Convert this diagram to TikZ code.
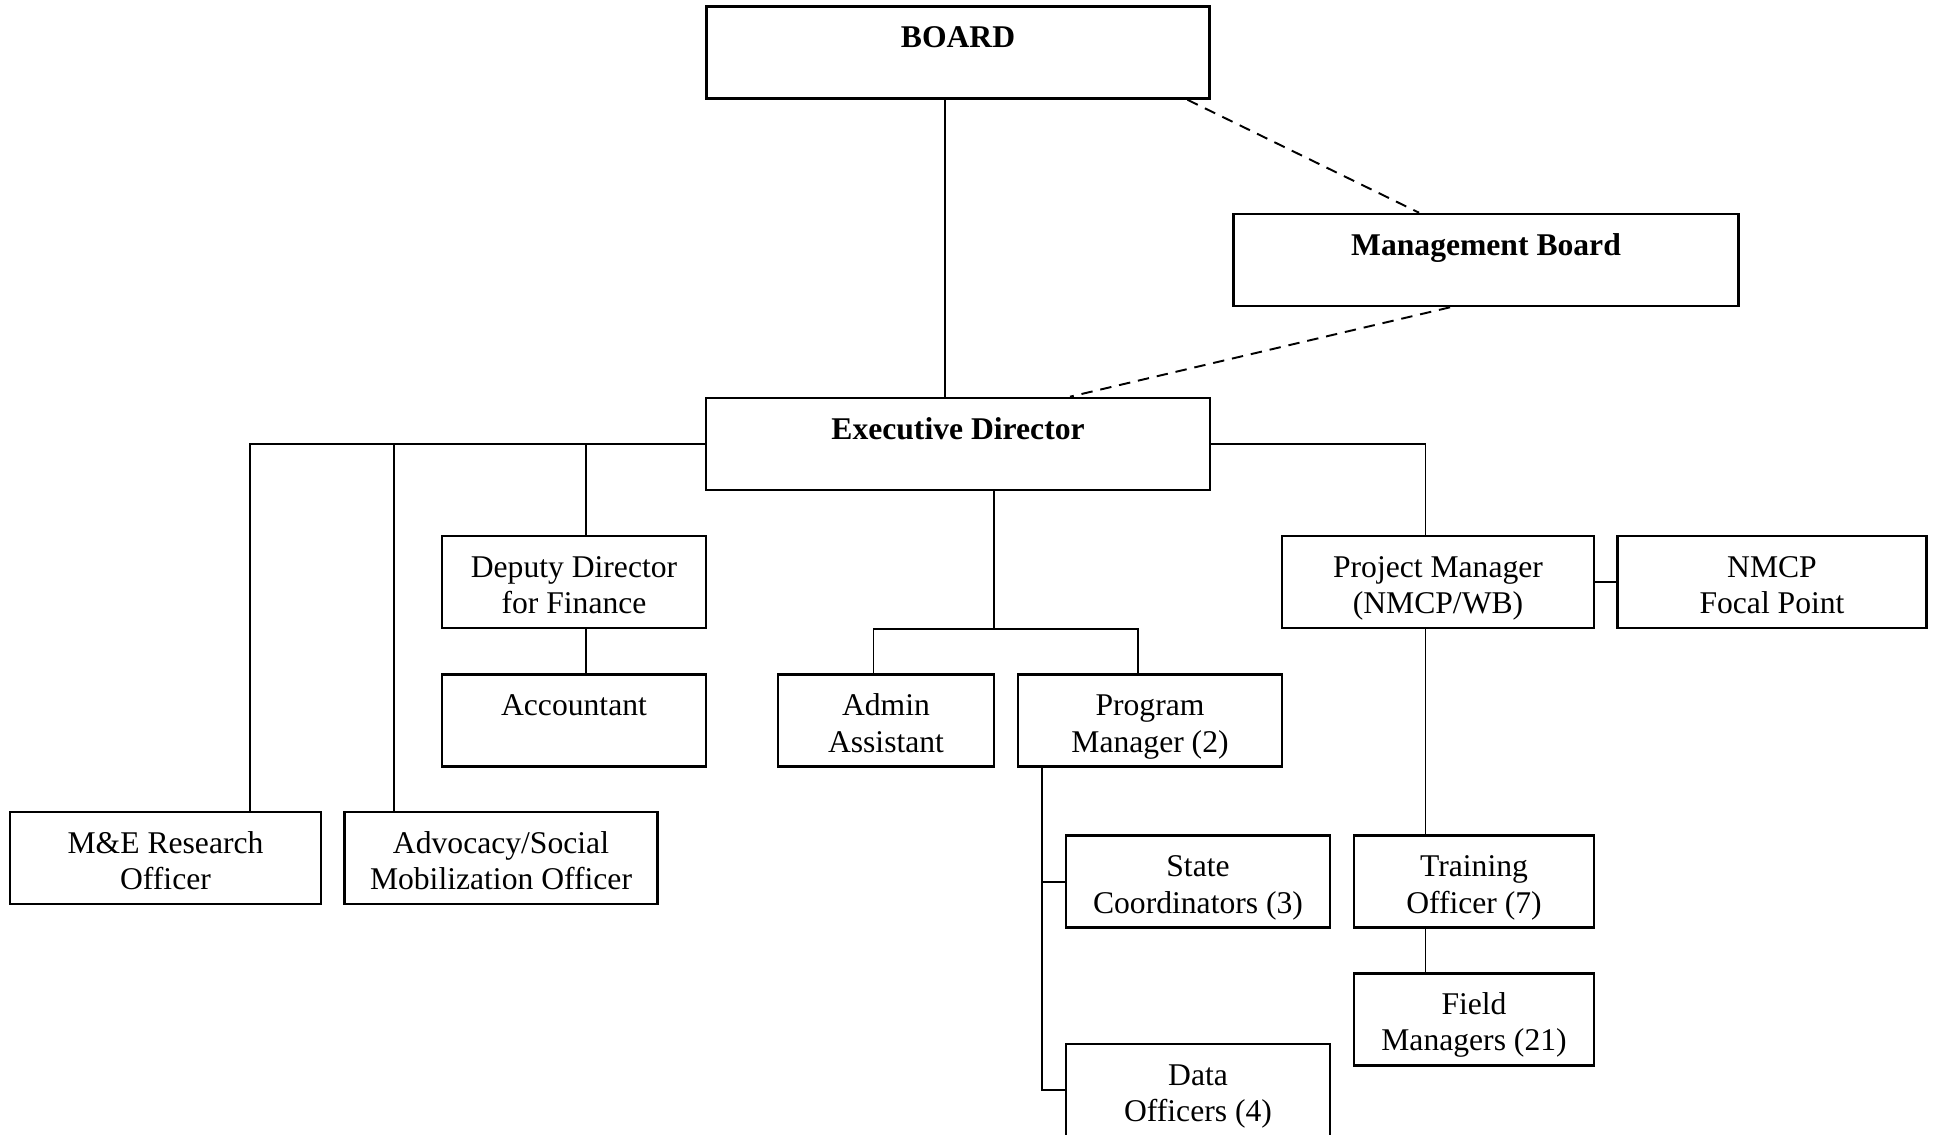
\documentclass[tikz,border=0pt]{standalone}
\usepackage{fontspec}
\setmainfont{Liberation Serif}
\usepackage{tikz}
\usetikzlibrary{positioning}
\tikzstyle{post} = [rectangle, draw=black, line width=1.5pt, fill=white, minimum width=5.28cm, minimum height=1.84cm, inner ysep=0pt, text height=0.82cm, text depth=1.02cm, text centered]
\tikzstyle{link} = [line width=1.1pt, color=black]
\tikzstyle{dotlink} = [line width=1.1pt, color=black, dash pattern=on 6.5pt off 4.5pt]
\newcommand{\twoline}[2]{\begin{tabular}[t]{@{}c@{}}#1\\#2\end{tabular}}

\begin{document}
\begin{tikzpicture}[x=0.02cm, y=-0.02cm, font=\fontsize{18}{20.8}\selectfont]
\useasboundingbox (0,0) rectangle (1939,1134);
% Top level
\node[post, minimum width=10.07cm] (board) at (958,52.5) {\textbf{BOARD}};
\node[post, minimum width=10.1cm] (mgmt) at (1486,260) {\textbf{Management Board}};
\node[post, minimum width=10.08cm] (ed) at (958,444) {\textbf{Executive Director}};

\draw[link] ([xshift=-0.26cm]board.south) -- ([xshift=-0.26cm]ed.north);
\draw[dotlink] ([xshift=-0.47cm]board.south east) -- ([xshift=-1.34cm]mgmt.north);
\draw[dotlink] ([xshift=-0.72cm]mgmt.south) -- ([xshift=2.24cm]ed.north);

% Left side
\node[post] (deputy) at (574,582) {\twoline{Deputy Director}{for Finance}};
\node[post] (acc) at (574,720.7) {Accountant};
\node[post, minimum width=6.22cm] (me) at (165.5,858) {\twoline{M\&E Research}{Officer}};
\node[post, minimum width=6.25cm] (adv) at (501,858) {\twoline{Advocacy/Social}{Mobilization Officer}};

\draw[link] (ed.west) -| ([xshift=1.69cm]me.north);
\draw[link] (ed.west) -| ([xshift=-2.14cm]adv.north);
\draw[link] (ed.west) -| ([xshift=0.24cm]deputy.north);
\draw[link] ([xshift=0.24cm]deputy.south) -- ([xshift=0.24cm]acc.north);

% Middle
\node[post, minimum width=4.32cm] (admin) at (886,720.5) {\twoline{Admin}{Assistant}};
\node[post] (prog) at (1150,720.5) {\twoline{Program}{Manager (2)}};
\node[post] (state) at (1198,881.7) {\twoline{State}{Coordinators (3)}};
\node[post] (data) at (1198,1090) {\twoline{Data}{Officers (4)}};

\coordinate (edsplit) at ([xshift=0.72cm]ed.south |- deputy.south);
\draw[link] ([xshift=0.72cm]ed.south) -- (edsplit);
\draw[link] ([xshift=-0.25cm]admin.north) |- (edsplit) -| ([xshift=-0.24cm]prog.north);
\draw[link] ([xshift=-2.16cm]prog.south) |- (state.west);
\draw[link] ([xshift=-2.16cm]prog.south) |- (data.west);

% Right side
\node[post, minimum width=6.24cm] (proj) at (1438,582) {\twoline{Project Manager}{(NMCP/WB)}};
\node[post, minimum width=6.18cm] (nmcp) at (1772,582) {\twoline{NMCP}{Focal Point}};
\node[post, minimum width=4.8cm] (train) at (1474,881.7) {\twoline{Training}{Officer (7)}};
\node[post, minimum width=4.8cm] (field) at (1474,1019.4) {\twoline{Field}{Managers (21)}};

\draw[link] (ed.east) -| ([xshift=-0.25cm]proj.north);
\draw[link] (proj.east) -- (nmcp.west);
\draw[link] ([xshift=-0.25cm]proj.south) -- ([xshift=-0.25cm]proj.south |- train.north);
\draw[link] ([xshift=-0.97cm]train.south) -- ([xshift=-0.97cm]field.north);
\end{tikzpicture}
\end{document}
